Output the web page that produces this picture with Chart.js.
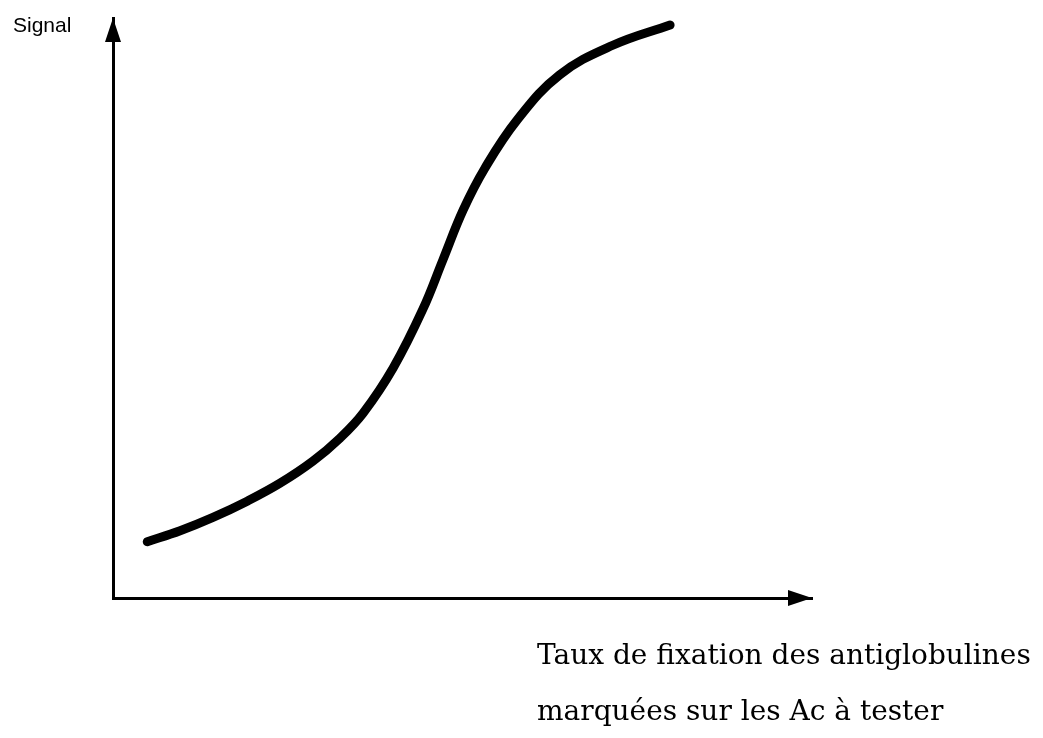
<!DOCTYPE html>
<html><head><meta charset="utf-8">
<script src="https://cdn.jsdelivr.net/npm/chart.js@4/dist/chart.umd.min.js"></script>
<style>html,body{margin:0;padding:0;background:#fff;}#wrap{width:1043px;height:738px;position:relative;}</style>
</head><body><div id="wrap"><canvas id="c"></canvas></div>
<script>
const xValues = [4.9, 9.6, 14.3, 19.2, 23.9, 28.6, 32.5, 35.8, 40.1, 44.3, 47.2, 50.1, 53.2, 57.8, 63.9, 71.5, 79.7];
const signal  = [9.7, 11.6, 13.9, 16.7, 19.8, 23.6, 27.6, 31.9, 39.7, 49.7, 58.3, 66.9, 74.1, 82.4, 90.2, 95.3, 98.8];
const yLabel = "Signal";
const xLabelLines = ["Taux de fixation des antiglobulines", "marquées sur les Ac à tester"];

const points = xValues.map((x, i) => ({x, y: signal[i]}));

const deco = {
  id: 'deco',
  afterDraw(chart) {
    const {ctx, chartArea: a} = chart;
    ctx.save();
    ctx.fillStyle = '#000';
    // y arrow
    ctx.beginPath();
    ctx.moveTo(a.left, a.top);
    ctx.lineTo(a.left - 8, a.top + 24);
    ctx.lineTo(a.left + 8, a.top + 24);
    ctx.closePath(); ctx.fill();
    // x arrow
    ctx.beginPath();
    ctx.moveTo(a.right, a.bottom);
    ctx.lineTo(a.right - 24, a.bottom - 8);
    ctx.lineTo(a.right - 24, a.bottom + 8);
    ctx.closePath(); ctx.fill();
    // labels
    ctx.font = '21px "Liberation Sans", Arial, sans-serif';
    ctx.textBaseline = 'alphabetic';
    ctx.textAlign = 'left';
    ctx.fillText(yLabel, 13, 32);
    ctx.font = '28px "DejaVu Serif", serif';
    ctx.fillText(xLabelLines[0], 537, 664);
    ctx.fillText(xLabelLines[1], 537, 720);
    ctx.restore();
  }
};

new Chart(document.getElementById('c'), {
  type: 'line',
  data: { datasets: [{ data: points, borderColor: '#000', borderWidth: 9, pointRadius: 0,
    tension: 0.4, borderCapStyle: 'round', borderJoinStyle: 'round', fill: false }] },
  options: {
    responsive: true, maintainAspectRatio: false, animation: false,
    layout: { padding: { left: 113, right: 231, top: 18, bottom: 140 } },
    plugins: { legend: { display: false }, tooltip: { enabled: false } },
    scales: {
      x: { type: 'linear', min: 0, max: 100, ticks: { display: false }, grid: { display: false, drawTicks: false },
           border: { display: true, color: '#000', width: 3 } },
      y: { type: 'linear', min: 0, max: 100, ticks: { display: false }, grid: { display: false, drawTicks: false },
           border: { display: true, color: '#000', width: 3 } }
    }
  },
  plugins: [deco]
});
</script></body></html>
